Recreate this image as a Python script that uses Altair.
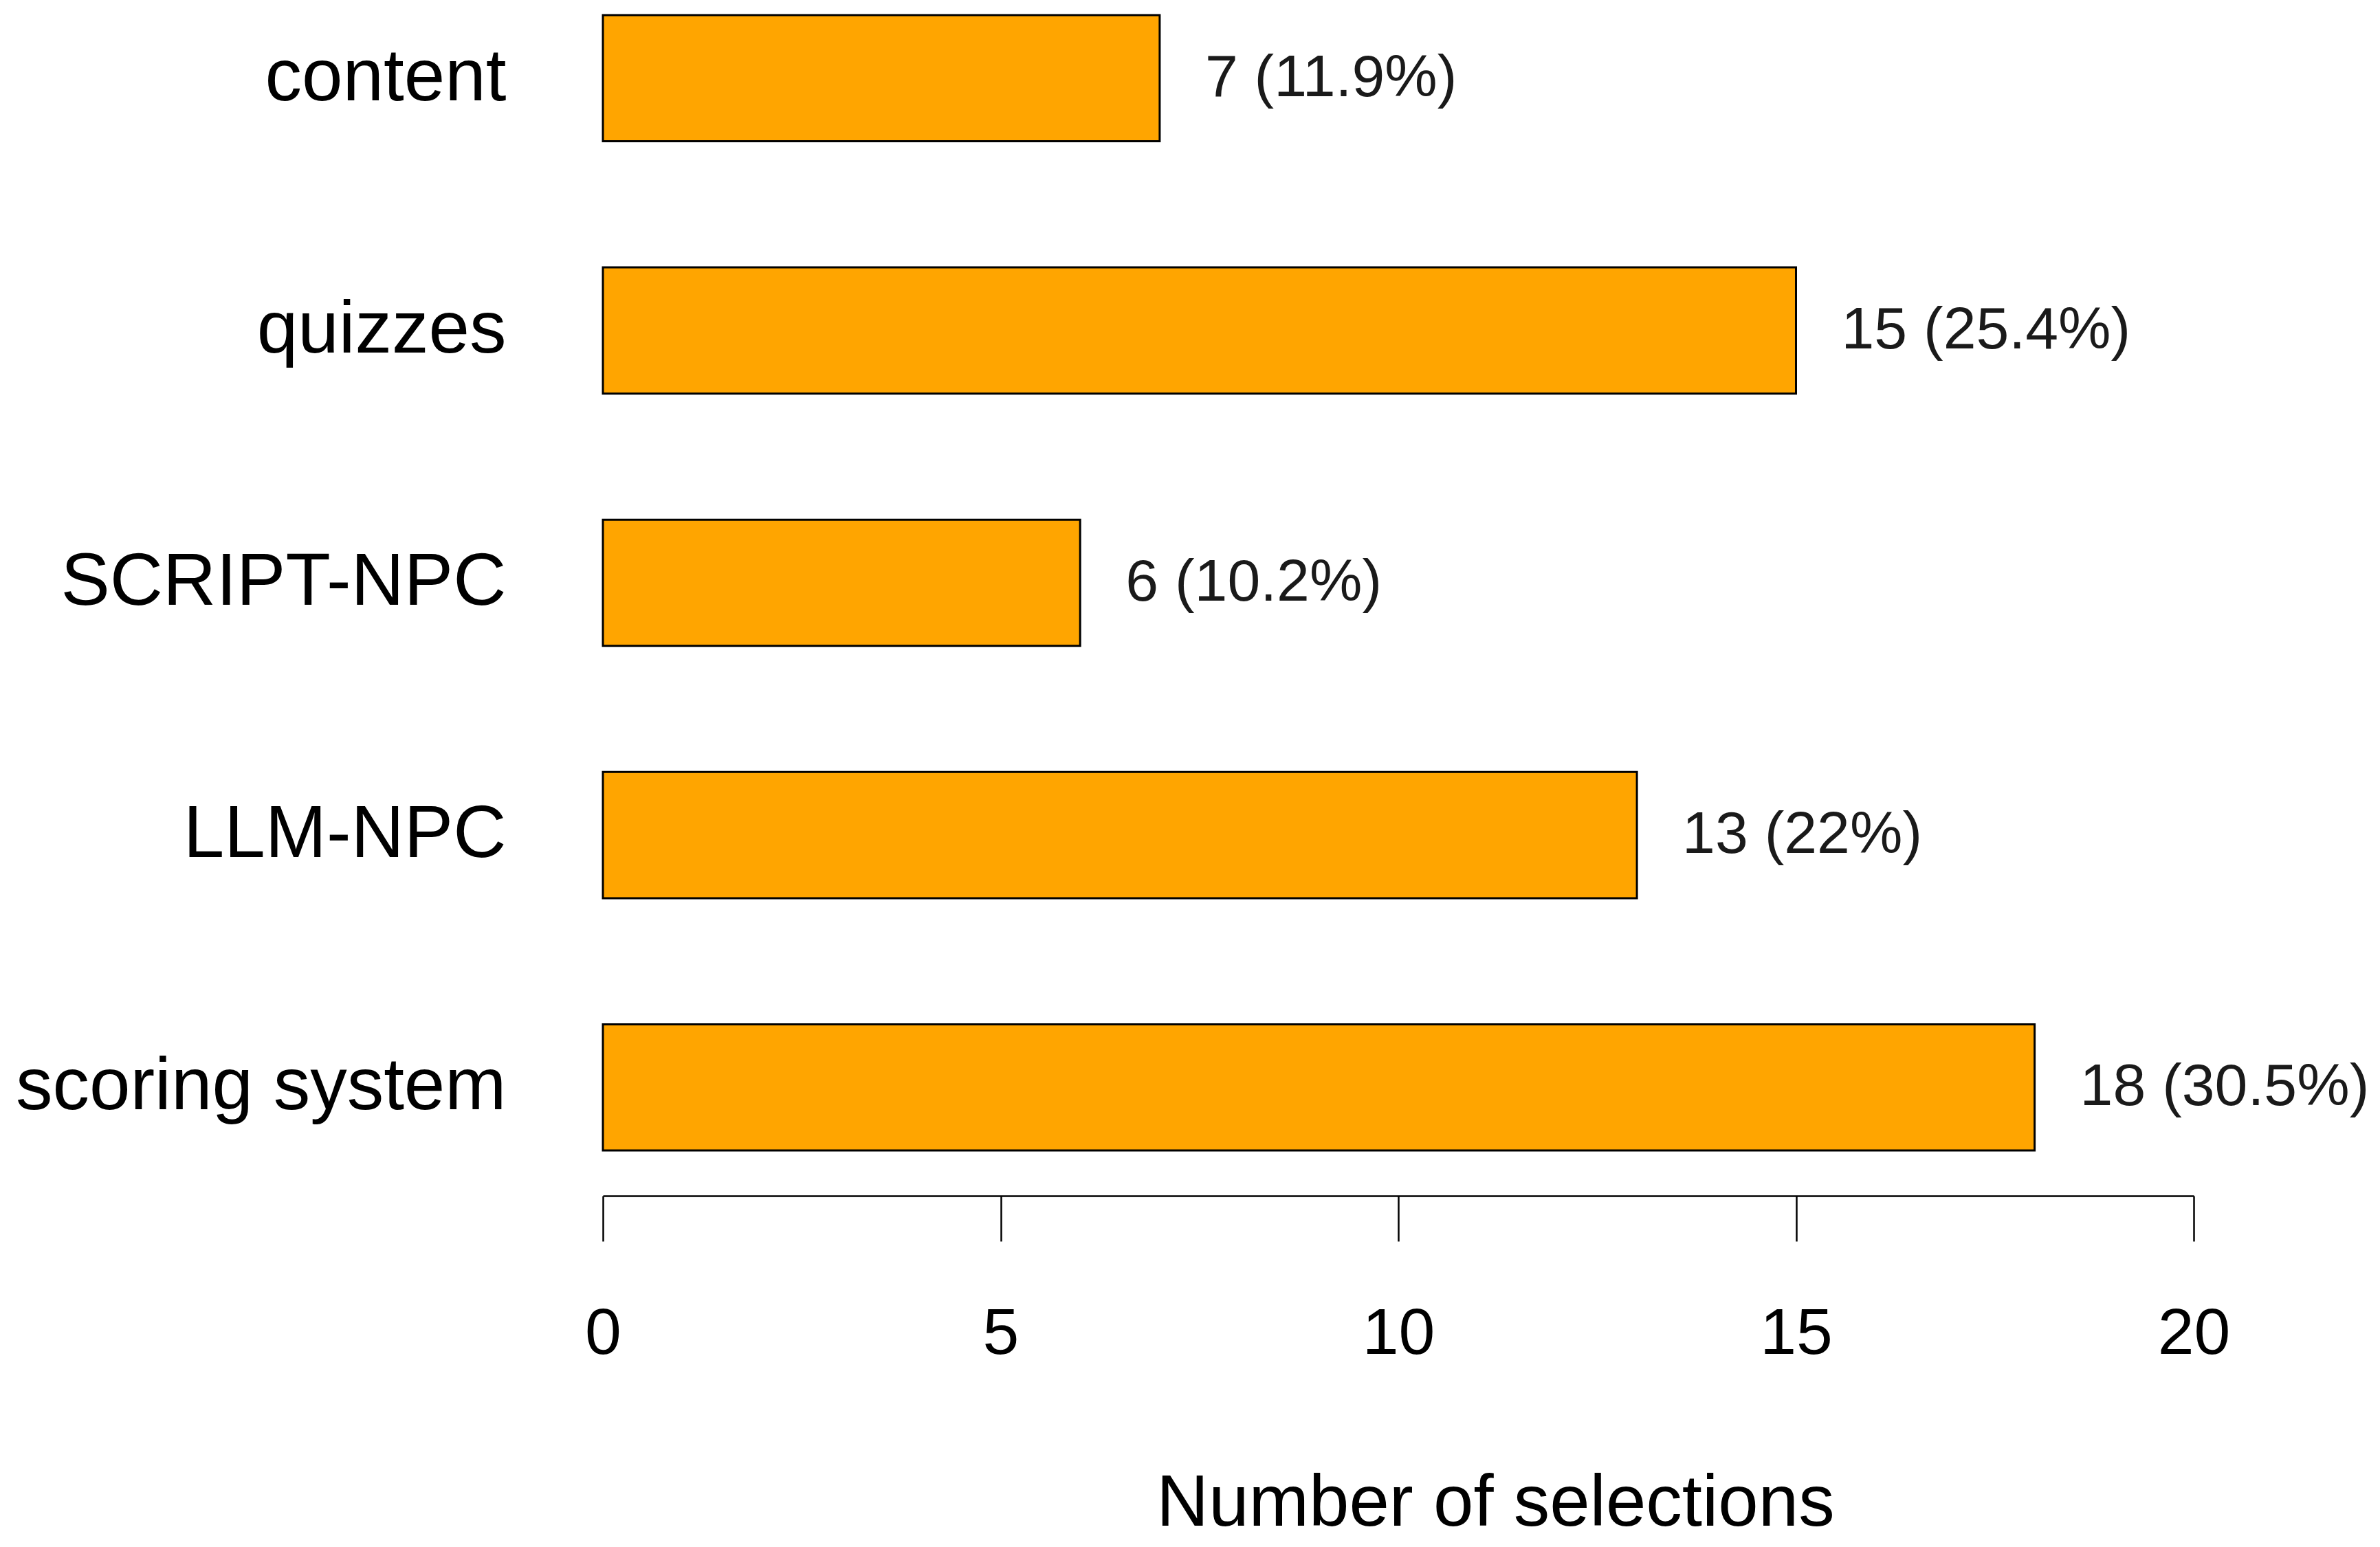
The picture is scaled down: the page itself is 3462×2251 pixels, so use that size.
import altair as alt
import pandas as pd

categories = ["content", "quizzes", "SCRIPT-NPC", "LLM-NPC", "scoring system"]
counts = [7, 15, 6, 13, 18]
value_labels = ["7 (11.9%)", "15 (25.4%)", "6 (10.2%)", "13 (22%)", "18 (30.5%)"]
x_ticks = [0, 5, 10, 15, 20]

df = pd.DataFrame({"category": categories, "count": counts, "label": value_labels})

FONT = "Liberation Sans"

y_enc = alt.Y(
    "category:N",
    sort=categories,
    scale=alt.Scale(paddingInner=0.5, paddingOuter=0),
    axis=alt.Axis(
        title=None, ticks=False, tickSize=0, domain=False,
        labelFontSize=107, labelFont=FONT, labelColor="black",
        labelPadding=141, labelLimit=2000,
    ),
)

x_enc = alt.X(
    "count:Q",
    scale=alt.Scale(domain=[0, 20], nice=False, zero=True),
    axis=alt.Axis(
        title="Number of selections", values=x_ticks, grid=False, format="d",
        offset=66, tickSize=66, tickWidth=2.5, tickColor="black",
        domainWidth=2.5, domainColor="black",
        labelFontSize=95, labelFont=FONT, labelColor="black",
        labelPadding=88, labelFlush=False, labelLimit=1000,
        titleFontSize=105, titleFont=FONT, titleFontWeight="normal",
        titleColor="black", titlePadding=196, titleX=1298,
    ),
)

bars = alt.Chart(df).mark_bar(
    color="#FFA500", stroke="black", strokeWidth=3
).encode(x=x_enc, y=y_enc)

texts = alt.Chart(df).mark_text(
    align="left", baseline="middle", dx=66, fontSize=86, font=FONT, color="#1a1a1a"
).encode(
    x=alt.X("count:Q"),
    y=alt.Y("category:N", sort=categories),
    text="label:N",
)

chart = (
    alt.layer(bars, texts)
    .properties(
        width=2314, height=1652,
        padding={"left": 869, "top": 14, "right": 258, "bottom": 572},
        autosize=alt.AutoSizeParams(type="none"),
        background="white",
    )
    .configure_view(strokeWidth=0, stroke=None)
)

chart.save("out.html", embed_options={"renderer": "svg", "actions": False})
